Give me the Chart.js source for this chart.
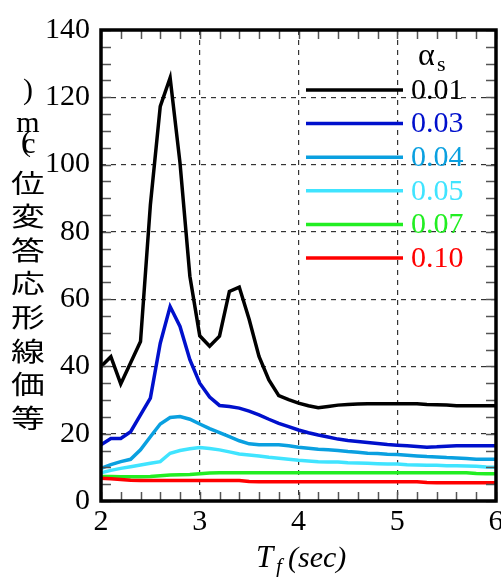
<!DOCTYPE html>
<html>
<head>
<meta charset="utf-8">
<script src="https://cdn.jsdelivr.net/npm/chart.js@4/dist/chart.umd.min.js"></script>
<style>
html,body{margin:0;padding:0;background:#fff;}
#wrap{width:501px;height:577px;}
</style>
</head>
<body>
<div id="wrap"><canvas id="c" width="501" height="577"></canvas></div>
<script>
// ---- data ----
const periods = [2.0,2.1,2.2,2.3,2.4,2.5,2.6,2.7,2.8,2.9,
                 3.0,3.1,3.2,3.3,3.4,3.5,3.6,3.7,3.8,3.9,
                 4.0,4.1,4.2,4.3,4.4,4.5,4.6,4.7,4.8,4.9,
                 5.0,5.1,5.2,5.3,5.4,5.5,5.6,5.7,5.8,5.9,
                 6.0];
const seriesLabels = ['0.01','0.03','0.04','0.05','0.07','0.10'];
const disp001 = [40.0,42.9,34.8,41.1,47.4,88.0,117.3,125.8,100.5,66.8,
                 49.1,46.0,49.0,62.3,63.6,54.0,43.0,36.0,31.3,30.1,
                 29.1,28.3,27.7,28.1,28.5,28.7,28.8,28.9,28.9,28.9,
                 28.9,28.9,28.9,28.7,28.6,28.5,28.3,28.3,28.3,28.3,
                 28.3];
const disp003 = [16.7,18.6,18.6,20.6,25.6,30.6,46.9,57.8,51.9,42.0,
                 35.0,30.9,28.4,28.1,27.6,26.7,25.6,24.3,23.1,22.1,
                 21.1,20.3,19.6,19.0,18.4,18.0,17.7,17.4,17.1,16.8,
                 16.6,16.4,16.2,16.0,16.1,16.3,16.4,16.4,16.4,16.4,
                 16.4];
const disp004 = [9.7,10.8,11.7,12.4,15.2,19.1,22.9,24.8,25.1,24.3,
                 22.9,21.5,20.3,19.1,17.9,17.0,16.7,16.7,16.7,16.4,
                 16.0,15.7,15.4,15.2,15.0,14.7,14.5,14.2,14.1,13.9,
                 13.8,13.6,13.4,13.2,13.1,12.9,12.8,12.6,12.4,12.4,
                 12.4];
const disp005 = [8.4,9.1,9.7,10.2,10.7,11.2,11.7,14.2,15.0,15.5,
                 15.9,15.6,15.2,14.6,14.0,13.7,13.4,13.0,12.7,12.4,
                 12.1,11.9,11.7,11.6,11.6,11.4,11.3,11.2,11.1,11.0,
                 11.0,10.8,10.7,10.6,10.6,10.5,10.5,10.4,10.3,10.1,
                 10.0];
const disp007 = [7.3,7.3,7.2,7.2,7.2,7.3,7.5,7.7,7.8,7.9,
                 8.1,8.3,8.4,8.4,8.4,8.4,8.4,8.4,8.4,8.4,
                 8.4,8.4,8.4,8.4,8.4,8.4,8.4,8.4,8.4,8.4,
                 8.4,8.4,8.4,8.4,8.4,8.4,8.4,8.4,8.2,8.1,
                 8.1];
const disp010 = [6.8,6.6,6.4,6.2,6.1,6.1,6.1,6.1,6.1,6.1,
                 6.1,6.1,6.1,6.1,6.1,5.8,5.7,5.7,5.7,5.7,
                 5.7,5.7,5.7,5.7,5.7,5.7,5.7,5.7,5.7,5.7,
                 5.7,5.7,5.7,5.5,5.4,5.4,5.4,5.4,5.4,5.4,
                 5.4];
const xTickLabels = ['2','3','4','5','6'];
const yTickLabels = ['0','20','40','60','80','100','120','140'];
const yTitleChars = ['等','価','線','形','応','答','変','位'];
const legendTitle = 'α';
const legendTitleSub = 's';

const allSeries = [disp001,disp003,disp004,disp005,disp007,disp010];
const colors = ['#000000','#0010CC','#0AA0E0','#40E4FF','#22EE22','#FF0000'];

const SERIF = '"Liberation Serif","DejaVu Serif",serif';
const CJK = '"Noto Sans CJK JP","Noto Sans CJK SC",sans-serif';

const datasets = allSeries.map((s,i)=>({
  label: seriesLabels[i],
  data: periods.map((p,j)=>({x:p,y:s[j]})),
  borderColor: colors[i],
  backgroundColor: colors[i],
  borderWidth: 3.5,
  pointRadius: 0,
  tension: 0,
  fill: false
})).reverse(); // draw black on top

const isNear = (v,t)=>Math.abs(v-t)<1e-6;

const decor = {
  id:'decor',
  afterDatasetsDraw(chart){
    const ctx = chart.ctx;
    const a = chart.chartArea;
    const xs = chart.scales.x, ys = chart.scales.y;
    ctx.save();
    // inward ticks
    ctx.strokeStyle = '#555';
    ctx.lineWidth = 1.5;
    ctx.beginPath();
    ys.ticks.forEach(t=>{
      const y = Math.round(ys.getPixelForValue(t.value))+0.5;
      ctx.moveTo(a.left, y); ctx.lineTo(a.left+10, y);
      ctx.moveTo(a.right, y); ctx.lineTo(a.right-10, y);
    });
    xs.ticks.forEach(t=>{
      const x = Math.round(xs.getPixelForValue(t.value))+0.5;
      ctx.moveTo(x, a.bottom); ctx.lineTo(x, a.bottom-9);
      ctx.moveTo(x, a.top); ctx.lineTo(x, a.top+9);
    });
    ctx.stroke();
    // frame
    ctx.strokeStyle = '#000';
    ctx.lineWidth = 3.5;
    ctx.strokeRect(a.left, a.top, a.right-a.left, a.bottom-a.top);

    // legend
    const ds = chart.data.datasets.slice().reverse();
    const rowY0 = 90, rowStep = 33.6;
    ctx.textBaseline = 'middle';
    ctx.textAlign = 'left';
    ctx.font = '30px '+SERIF;
    ds.forEach((d,i)=>{
      const y = rowY0 + i*rowStep;
      ctx.strokeStyle = d.borderColor;
      ctx.lineWidth = 3.5;
      ctx.beginPath();
      ctx.moveTo(306, y); ctx.lineTo(403, y);
      ctx.stroke();
      ctx.fillStyle = d.borderColor;
      ctx.fillText(d.label, 411, y+1);
    });
    // legend title
    ctx.fillStyle = '#000';
    ctx.textBaseline = 'alphabetic';
    ctx.font = '32px '+SERIF;
    ctx.fillText(legendTitle, 418, 65);
    ctx.font = '22px '+SERIF;
    ctx.fillText(legendTitleSub, 437, 71);

    // x title
    ctx.font = 'italic 31px '+SERIF;
    ctx.fillText('T', 256, 567);
    ctx.font = 'italic 21px '+SERIF;
    ctx.fillText('f', 276, 573);
    ctx.font = 'italic 30px '+SERIF;
    ctx.fillText('(sec)', 288, 567);

    // y title (vertical stack, bottom to top)
    ctx.textAlign = 'center';
    ctx.textBaseline = 'middle';
    yTitleChars.forEach((ch,i)=>{
      const y = 418 - i*33.6;
      ctx.save();
      ctx.translate(28, y);
      ctx.scale(1.3, 1);
      ctx.font = '26px '+CJK;
      ctx.fillText(ch, 0, 0);
      ctx.restore();
    });
    ctx.font = '30px '+SERIF;
    ctx.fillText('c', 29, 145);
    ctx.fillText('(', 26, 143);
    ctx.fillText('m', 28, 124);
    ctx.fillText(')', 28, 91);
    ctx.restore();
  }
};

new Chart(document.getElementById('c'), {
  type:'line',
  data:{datasets},
  options:{
    responsive:false,
    animation:false,
    devicePixelRatio:1,
    layout:{padding:{left:0,right:5,top:30,bottom:0}},
    plugins:{legend:{display:false},tooltip:{enabled:false}},
    scales:{
      x:{
        type:'linear', min:2, max:6,
        grid:{
          drawTicks:false,
          color:(c)=> (c.tick && isNear(c.tick.value, Math.round(c.tick.value)) && c.index>0 && c.tick.value<6) ? '#333' : 'rgba(0,0,0,0)',
          lineWidth:1.2
        },
        border:{display:false, dash:[5,5]},
        ticks:{
          stepSize:0.2, autoSkip:false, maxRotation:0, padding:3,
          color:'#000', font:{family:SERIF, size:30},
          callback:(v)=>{ const k = xTickLabels.indexOf(String(Math.round(v))); return (isNear(v,Math.round(v)) && k>=0) ? xTickLabels[k] : ''; }
        },
        afterFit:(s)=>{ s.height = 76; s.paddingLeft = 0; s.paddingRight = 0; }
      },
      y:{
        type:'linear', min:0, max:140,
        grid:{
          drawTicks:false,
          color:(c)=> (c.tick && c.tick.value%20===0 && c.tick.value>0 && c.tick.value<140) ? '#333' : 'rgba(0,0,0,0)',
          lineWidth:1.2
        },
        border:{display:false, dash:[5,5]},
        ticks:{
          stepSize:5, autoSkip:false, padding:11,
          color:'#000', font:{family:SERIF, size:30},
          callback:(v)=>{ const k = yTickLabels.indexOf(String(v)); return (v%20===0 && k>=0) ? yTickLabels[k] : ''; }
        },
        afterFit:(s)=>{ s.width = 101; s.paddingTop = 0; s.paddingBottom = 0; }
      }
    }
  },
  plugins:[decor]
});
</script>
</body>
</html>
